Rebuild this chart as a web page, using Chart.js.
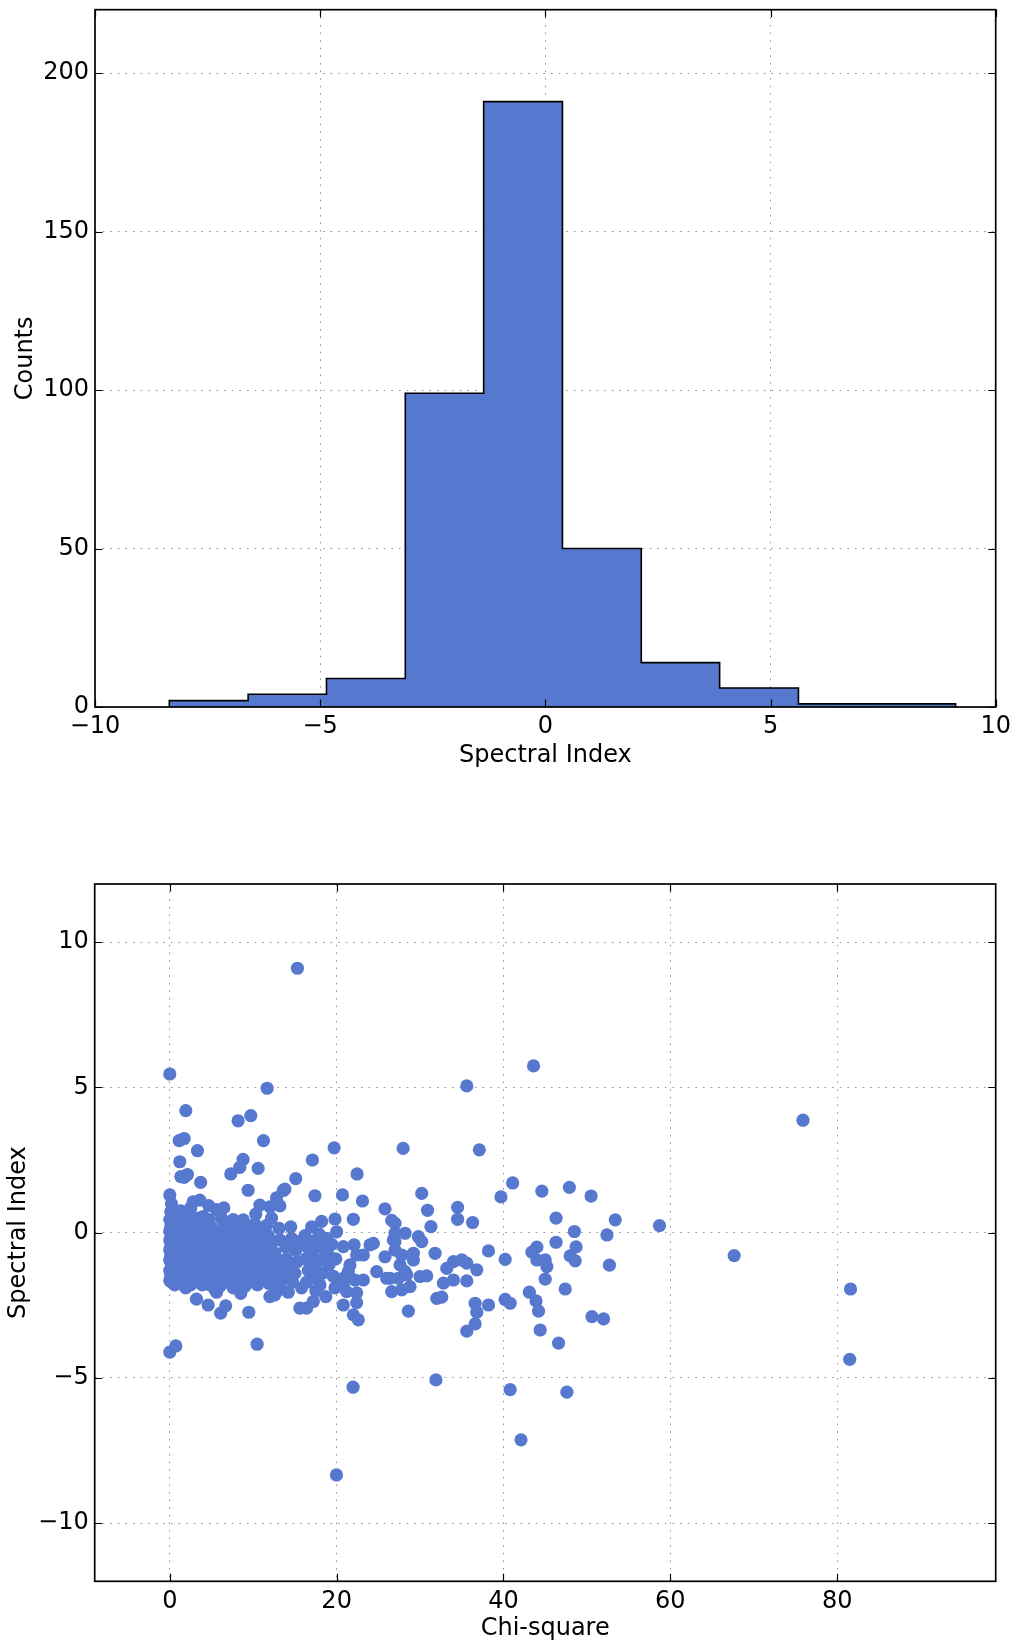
<!DOCTYPE html>
<html><head><meta charset="utf-8">
<script src="https://cdn.jsdelivr.net/npm/chart.js@4.4.1/dist/chart.umd.min.js"></script>
<style>
html,body{margin:0;padding:0;background:#fff;width:1017px;height:1643px;overflow:hidden}
canvas{position:absolute;left:0}
#c1{top:0}
#c2{top:800px}
</style></head>
<body>
<canvas id="c1" width="1017" height="780"></canvas>
<canvas id="c2" width="1017" height="843"></canvas>
<script>
// ---------- data ----------
const binEdges  = [-8.35, -6.60, -4.86, -3.11, -1.37, 0.38, 2.13, 3.87, 5.62, 7.36, 9.11];
const binCounts = [2, 4, 9, 99, 191, 50, 14, 6, 1, 1];

const histXTicks = [-10, -5, 0, 5, 10];
const histYTicks = [0, 50, 100, 150, 200];
const scatXTicks = [0, 20, 40, 60, 80];
const scatYTicks = [-10, -5, 0, 5, 10];

// [Chi-square, Spectral Index]
const scatterPoints = [
 [0,5.46],[11.67,4.97],[1.92,4.2],[8.19,3.85],[9.71,4.03],[11.23,3.17],[1.12,3.17],[1.72,3.24],[3.32,2.82],[1.2,2.44],
 [8.79,2.52],[8.39,2.25],[7.31,2.02],[10.59,2.21],[19.7,2.92],[17.1,2.5],[27.97,2.9],[1.32,1.93],[1.72,1.9],[2.12,2.0],
 [3.7,1.73],[15.1,1.86],[22.45,2.02],[9.39,1.46],[13.6,1.45],[13.8,1.5],[17.4,1.27],[20.7,1.3],[23.1,1.09],[25.8,0.82],
 [0,1.3],[0.2,1.0],[0.12,0.72],[2.8,1.06],[3.6,1.12],[4.67,0.93],[5.6,0.79],[6.47,0.85],[12.8,1.2],[10.8,0.95],
 [12.0,0.89],[13.2,0.92],[10.3,0.64],[4.0,0.55],[8.8,0.44],[12.2,0.5],[18.2,0.39],[19.8,0.47],[22.0,0.46],[26.6,0.42],
 [15.3,9.1],[35.6,5.05],[43.6,5.74],[75.9,3.87],[37.1,2.85],[30.2,1.35],[30.9,0.77],[34.5,0.87],[34.5,0.46],[36.3,0.35],
 [39.7,1.23],[41.1,1.71],[44.6,1.43],[47.9,1.56],[50.5,1.26],[46.3,0.5],[53.4,0.44],[58.7,0.24],[67.65,-0.79],[81.6,-1.94],
 [81.5,-4.36],
 [27.0,0.32],[27.0,-0.02],[27.0,-0.31],[28.2,-0.02],[29.8,-0.14],[30.2,-0.31],[31.3,0.21],[48.5,0.04],[52.4,-0.08],[46.3,-0.33],
 [48.7,-0.49],[43.4,-0.67],[44.0,-0.5],[44.0,-0.94],[45.0,-0.94],[45.2,-1.17],[45.0,-1.6],[48.0,-0.8],[48.6,-0.97],[52.7,-1.12],
 [47.4,-1.94],[43.1,-2.05],[43.9,-2.35],[44.2,-2.7],[44.4,-3.35],[46.6,-3.8],[50.6,-2.89],[52.0,-2.97],[38.2,-0.63],[40.2,-0.92],
 [40.2,-2.3],[40.8,-2.43],[36.6,-2.43],[36.8,-2.74],[36.6,-3.14],[35.6,-3.39],[38.2,-2.49],[26.8,-0.25],[27.0,-0.6],[27.8,-0.77],
 [29.2,-0.71],[29.2,-0.94],[27.6,-1.11],[28.2,-1.34],[26.4,-1.57],[27.4,-1.57],[28.4,-1.45],[26.6,-2.03],[27.8,-1.97],[28.8,-1.86],
 [28.6,-2.7],[31.8,-0.71],[33.2,-1.23],[34.0,-1.0],[35.0,-0.94],[35.6,-1.05],[36.8,-1.28],[32.8,-1.74],[34.0,-1.63],[35.6,-1.66],
 [30.0,-1.51],[30.8,-1.49],[32.0,-2.26],[32.6,-2.22],[31.9,-5.07],[42.1,-7.13],[40.8,-5.4],[47.6,-5.49],
 [0,-4.11],[0.72,-3.9],[10.47,-3.84],[21.97,-5.32],[19.98,-8.34],
 [3.2,-2.29],[4.6,-2.49],[6.1,-2.77],[6.7,-2.52],[9.47,-2.74],[15.6,-2.6],[16.4,-2.6],[17.2,-2.37],[20.8,-2.49],[22.0,-2.83],
 [22.6,-3.0],[22.4,-2.41],[22.4,-2.07],[8.5,-2.09],[5.4,-1.95],[12.0,-2.2],[12.6,-2.14],
 [20.0,0.03],[20.8,-0.48],[22.1,-0.42],[23.2,-0.77],[24.0,-0.42],[24.4,-0.37],[21.6,-1.11],[22.4,-0.77],[21.4,-1.34],[20.8,-1.57],
 [24.8,-1.34],[25.8,-0.83],[26.0,-1.57],[22.2,-1.63],[23.2,-1.63],[20.8,-1.8],[21.2,-2.03],
 [0.0,0.45],[0.1,0.2],[0.0,0.05],[0.2,-0.1],[0.0,-0.25],[0.3,-0.35],[0.1,-0.5],[0.0,-0.6],[0.4,-0.7],[0.1,-0.8],
 [0.0,-0.95],[0.3,-1.05],[0.2,-1.2],[0.0,-1.3],[0.1,-1.45],[0.4,-1.55],[0.0,-1.65],[0.2,-1.7],[0.6,-1.8],[0.6,0.3],
 [0.5,-0.15],[0.6,-0.45],[0.5,-0.9],[0.6,-1.3],[0.3,0.6],
 [0.8,0.5],[1.0,0.1],[1.2,-0.2],[0.9,-0.55],[1.1,-0.9],[0.8,-1.2],[1.0,-1.5],[1.3,-1.75],[1.5,0.35],[1.6,-0.05],
 [1.7,-0.4],[1.5,-0.75],[1.8,-1.05],[1.6,-1.35],[1.7,-1.6],[2.0,0.55],[2.2,0.2],[2.1,-0.15],[2.3,-0.6],[2.0,-0.95],
 [2.4,-1.25],[2.2,-1.55],[2.5,-1.8],[2.7,0.4],[2.8,0.0],[2.6,-0.35],[2.9,-0.8],[2.7,-1.1],[3.0,-1.45],[2.8,-1.7],
 [3.2,0.25],[3.3,-0.2],[3.1,-0.5],[3.4,-0.95],[3.2,-1.3],[3.5,-1.6],[3.6,-0.05],[3.8,-0.4],[3.7,-0.7],[3.9,-1.15],
 [3.6,-1.45],[3.9,-1.8],[1.3,0.75],[2.5,0.85],[1.4,-1.0],[2.6,-1.35],[0.7,-1.65],[3.4,0.5],[1.9,-1.9],[3.0,-0.65],
 [4.2,0.3],[4.4,-0.1],[4.3,-0.5],[4.6,-0.85],[4.2,-1.2],[4.5,-1.5],[4.8,-1.8],[5.0,0.2],[5.2,-0.3],[5.1,-0.65],
 [5.4,-1.0],[5.0,-1.35],[5.3,-1.65],[5.8,0.0],[5.7,-0.45],[6.0,-0.8],[5.9,-1.15],[6.2,-1.5],[6.0,-1.85],[6.5,0.3],
 [6.6,-0.2],[6.8,-0.6],[6.5,-1.0],[6.9,-1.3],[6.7,-1.7],[7.2,0.1],[7.3,-0.35],[7.1,-0.75],[7.5,-1.1],[7.3,-1.45],
 [7.6,-1.9],[7.9,0.35],[8.0,-0.15],[8.2,-0.55],[7.9,-0.9],[8.3,-1.25],[8.0,-1.6],[8.6,0.05],[8.8,-0.4],[8.7,-0.8],
 [9.0,-1.15],[8.6,-1.5],[9.0,-1.85],[9.3,0.2],[9.5,-0.25],[9.4,-0.65],[9.7,-1.0],[9.4,-1.35],[9.8,-1.65],[9.9,0.0],
 [4.7,0.45],[6.2,0.5],[7.6,0.45],[5.6,-2.05],[8.4,-2.0],
 [10.2,0.3],[10.3,-0.2],[10.1,-0.6],[10.4,-1.0],[10.2,-1.4],[10.5,-1.8],[11.0,0.1],[11.1,-0.4],[10.9,-0.8],[11.2,-1.2],
 [11.0,-1.6],[11.6,0.25],[11.8,-0.1],[11.7,-0.55],[11.9,-0.95],[11.6,-1.35],[11.9,-1.75],[12.4,-0.3],[12.6,-0.7],[12.3,-1.1],
 [12.7,-1.5],[13.1,0.15],[13.2,-0.25],[13.0,-0.95],[13.4,-1.3],[13.2,-1.75],[13.9,-0.5],[14.0,-0.9],[13.8,-1.5],[14.5,0.2],
 [14.6,-0.2],[14.4,-1.2],[14.7,-1.7],[15.1,-0.6],[15.3,-1.0],[15.0,-1.4],[15.6,-0.3],[15.8,-1.9],[14.2,-2.05],[12.9,-2.0],
 [16.2,-0.1],[16.5,-0.5],[16.3,-0.9],[16.6,-1.3],[16.4,-1.7],[17.0,0.2],[17.2,-0.3],[17.1,-0.75],[17.4,-1.15],[17.2,-1.55],
 [17.5,-2.0],[17.9,-0.05],[18.1,-0.5],[18.0,-0.95],[18.3,-1.4],[18.0,-1.8],[18.8,-0.2],[18.9,-0.7],[19.1,-1.1],[18.7,-2.2],
 [19.4,-0.4],[19.6,-1.5],[19.9,-0.9],[19.8,-1.9]
];

// ---------- style ----------
const BLUE = '#5778cf';
Chart.defaults.font.family = "'DejaVu Sans', sans-serif";
Chart.defaults.font.size = 24;
Chart.defaults.color = '#000';

const minus = v => String(v).replace('-', '\u2212');
const setTicks = arr => (scale) => { scale.ticks = arr.map(v => ({value: v})); };

const gridOpts = { color: 'rgba(0,0,0,0.42)', lineWidth: 1, drawTicks: false };
const borderOpts = { display: false, dash: [1.6, 6] };

const framePlugin = {
  id: 'frame',
  afterDraw(chart) {
    const {ctx, chartArea: a, scales: {x, y}} = chart;
    ctx.save();
    ctx.strokeStyle = '#000';
    ctx.lineWidth = 1.2;
    ctx.beginPath();
    x.ticks.forEach(t => {
      const px = Math.round(x.getPixelForValue(t.value)) + 0.5;
      ctx.moveTo(px, a.bottom); ctx.lineTo(px, a.bottom - 7.5);
      ctx.moveTo(px, a.top); ctx.lineTo(px, a.top + 7.5);
    });
    y.ticks.forEach(t => {
      const py = Math.round(y.getPixelForValue(t.value)) + 0.5;
      ctx.moveTo(a.left, py); ctx.lineTo(a.left + 7.5, py);
      ctx.moveTo(a.right, py); ctx.lineTo(a.right - 7.5, py);
    });
    ctx.stroke();
    ctx.lineWidth = 1.7;
    ctx.strokeRect(a.left, a.top, a.right - a.left, a.bottom - a.top);
    ctx.restore();
  }
};

// ---------- histogram ----------
const histOutline = [{x: binEdges[0], y: 0}];
binCounts.forEach((c, i) => {
  histOutline.push({x: binEdges[i], y: c});
  histOutline.push({x: binEdges[i + 1], y: c});
});
histOutline.push({x: binEdges[binEdges.length - 1], y: 0});

const H1 = 780;
new Chart(document.getElementById('c1'), {
  type: 'line',
  data: { datasets: [{
    data: histOutline,
    borderColor: '#000', borderWidth: 1.6,
    backgroundColor: BLUE, fill: 'origin',
    pointRadius: 0, tension: 0
  }]},
  options: {
    responsive: false, animation: false, devicePixelRatio: 1, events: [],
    layout: { padding: { left: 0, top: 9.7, right: 21.3, bottom: 0 } },
    plugins: { legend: { display: false }, tooltip: { enabled: false } },
    scales: {
      x: {
        type: 'linear', min: -10, max: 10, z: 1,
        afterBuildTicks: setTicks(histXTicks),
        afterFit: s => { s.height = H1 - 707; s.paddingLeft = 0; s.paddingRight = 0; },
        grid: gridOpts, border: borderOpts,
        ticks: { padding: 5, maxRotation: 0, autoSkip: false, callback: v => minus(v) },
        title: { display: true, text: 'Spectral Index', padding: { top: 0, bottom: 10 } }
      },
      y: {
        type: 'linear', min: 0, max: 220, z: 1,
        afterBuildTicks: setTicks(histYTicks),
        afterFit: s => { s.width = 95; s.paddingTop = 0; s.paddingBottom = 0; },
        grid: gridOpts, border: borderOpts,
        ticks: { padding: 6, autoSkip: false, callback: v => minus(v) },
        title: { display: true, text: 'Counts', padding: { top: 11, bottom: 0 } }
      }
    }
  },
  plugins: [framePlugin]
});

// ---------- scatter ----------
const H2 = 843;
new Chart(document.getElementById('c2'), {
  type: 'scatter',
  data: { datasets: [{
    data: scatterPoints.map(p => ({x: p[0], y: p[1]})),
    backgroundColor: BLUE, borderWidth: 0, borderColor: 'rgba(0,0,0,0)',
    pointRadius: 6.6, pointBorderWidth: 0
  }]},
  options: {
    responsive: false, animation: false, devicePixelRatio: 1, events: [],
    layout: { padding: { left: 0, top: 84, right: 21.3, bottom: 0 } },
    plugins: { legend: { display: false }, tooltip: { enabled: false } },
    scales: {
      x: {
        type: 'linear', min: -9, max: 99, z: 1,
        afterBuildTicks: setTicks(scatXTicks),
        afterFit: s => { s.height = H2 - 781.3; s.paddingLeft = 0; s.paddingRight = 0; },
        grid: gridOpts, border: borderOpts,
        ticks: { padding: 6.5, maxRotation: 0, autoSkip: false, callback: v => minus(v) },
        title: { display: true, text: 'Chi-square', padding: { top: 0, bottom: 0 } }
      },
      y: {
        type: 'linear', min: -12, max: 12, z: 1,
        afterBuildTicks: setTicks(scatYTicks),
        afterFit: s => { s.width = 94.7; s.paddingTop = 0; s.paddingBottom = 0; },
        grid: gridOpts, border: borderOpts,
        ticks: { padding: 6, autoSkip: false, callback: v => minus(v) },
        title: { display: true, text: 'Spectral Index', padding: { top: 4, bottom: 0 } }
      }
    }
  },
  plugins: [framePlugin]
});
</script>
</body></html>
